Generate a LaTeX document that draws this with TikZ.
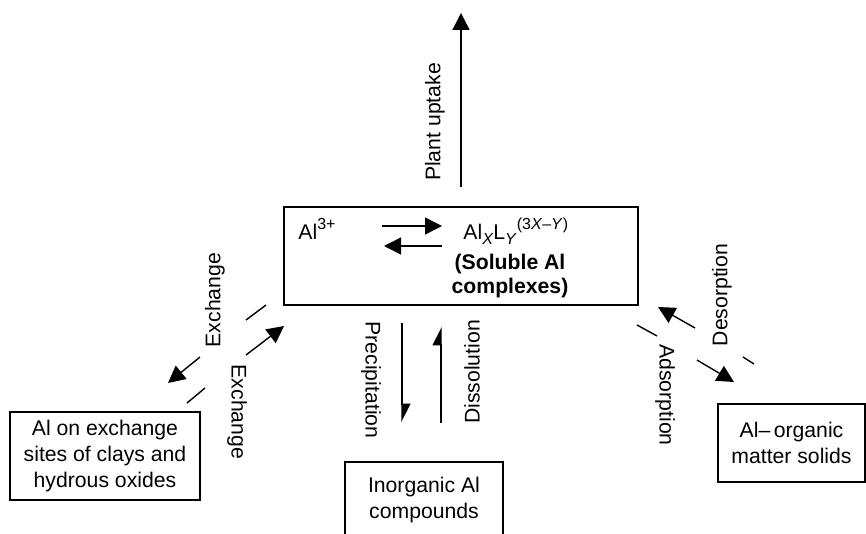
\documentclass[tikz,border=0pt]{standalone}
\usepackage{fontspec}
\setmainfont{Liberation Sans}
\usepackage{tikz}
\usetikzlibrary{arrows.meta}

\newcommand{\supx}[1]{\raisebox{0.48em}{\fontsize{8}{8}\selectfont #1}}
\newcommand{\subx}[1]{\raisebox{-0.22em}{\fontsize{8}{8}\selectfont #1}}

\tikzset{
    box/.style={draw, line width=0.7pt, inner sep=0pt, align=center},
    lbl/.style={inner sep=0pt},
    arr/.style={line width=0.7pt, -{Triangle[length=8.5pt,width=8.5pt]}},
    harp/.style={line width=0.7pt, -{Stealth[harpoon,inset=0pt,length=8.5pt,width=8.5pt]}},
    tick/.style={line width=0.7pt}
}

\begin{document}
\begin{tikzpicture}[x=0.5pt, y=-0.5pt, font=\fontsize{10.6}{13}\selectfont]
    \clip (0,0) rectangle (866,534);

    \node[box, minimum width=177pt, minimum height=49pt] at (461,256) (sol) {};
    \node[box, minimum width=95pt, minimum height=44pt] at (105,456) (exch) {Al on exchange\\sites of clays and\\hydrous oxides};
    \node[box, minimum width=79pt, minimum height=38pt] at (424,500) (inorg) {Inorganic Al\\compounds};
    \node[box, minimum width=73.5pt, minimum height=39pt] at (791.5,443) (org) {Al–\,organic\\matter solids};

    \node[lbl, anchor=base west] at (298,240) (alion) {Al\supx{3+}};
    \node[lbl, anchor=base west] at (463,240) (cplx) {Al\subx{\textit{X}}L\subx{\textit{Y}}\supx{(3\textit{X}–\textit{Y})}};
    \node[lbl, align=center, font=\fontsize{10.6}{12}\selectfont\bfseries] at (510,276) (solname) {(Soluble Al\\complexes)};

    \node[lbl, rotate=90] at (435,122) (plant) {Plant uptake};
    \node[lbl, rotate=90] at (215,300) (exlbl1) {Exchange};
    \node[lbl, rotate=-90] at (237,412) (exlbl2) {Exchange};
    \node[lbl, rotate=-90] at (371,380) (prlbl) {Precipitation};
    \node[lbl, rotate=90] at (472,372) (dilbl) {Dissolution};
    \node[lbl, rotate=90] at (722,295) (delbl) {Desorption};
    \node[lbl, rotate=-90] at (665,395) (adlbl) {Adsorption};

    \coordinate (up) at (461,13);
    \coordinate (fw1) at (382,226);
    \coordinate (fw2) at (442,226);
    \coordinate (bw1) at (442,246);
    \coordinate (bw2) at (384,246);
    \coordinate (pr1) at (402,323);
    \coordinate (pr2) at (402,422);
    \coordinate (di1) at (441,423);
    \coordinate (di2) at (441,327);
    \coordinate (ex1) at (200,357);
    \coordinate (ex2) at (168,383);
    \coordinate (ex3) at (246,355);
    \coordinate (ex4) at (284,326);
    \coordinate (ta1) at (246,320);
    \coordinate (ta2) at (266,305);
    \coordinate (tb1) at (187,403);
    \coordinate (tb2) at (205,388);
    \coordinate (de1) at (695,328);
    \coordinate (de2) at (658,307);
    \coordinate (ad1) at (697,360);
    \coordinate (ad2) at (734,382);
    \coordinate (tc1) at (637,325);
    \coordinate (tc2) at (657,336);
    \coordinate (td1) at (743,357);
    \coordinate (td2) at (754,364);

    \draw[arr, shorten <=9.5pt] (sol.north) -- (up);
    \draw[arr] (fw1) -- (fw2);
    \draw[arr] (bw1) -- (bw2);
    \draw[harp] (pr1) -- (pr2);
    \draw[harp] (di1) -- (di2);
    \draw[arr] (ex1) -- (ex2);
    \draw[arr] (ex3) -- (ex4);
    \draw[arr] (de1) -- (de2);
    \draw[arr] (ad1) -- (ad2);
    \draw[tick] (ta1) -- (ta2);
    \draw[tick] (tb1) -- (tb2);
    \draw[tick] (tc1) -- (tc2);
    \draw[tick] (td1) -- (td2);
\end{tikzpicture}
\end{document}
